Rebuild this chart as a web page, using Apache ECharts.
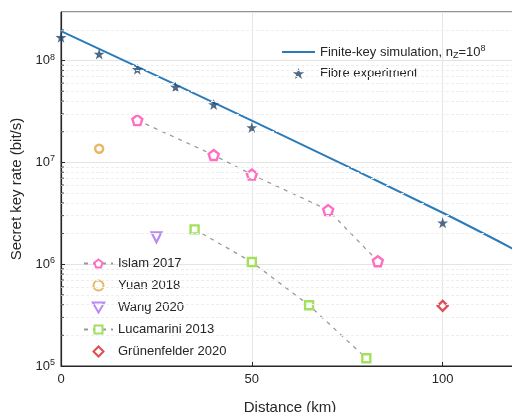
<!DOCTYPE html>
<html>
<head>
<meta charset="utf-8">
<script src="https://cdn.jsdelivr.net/npm/echarts@6/dist/echarts.min.js"></script>
<style>
  html, body { margin: 0; padding: 0; background: #fff; }
  #chart { width: 512px; height: 412px; }
</style>
</head>
<body>
<div id="chart"></div>
<script>
// Finite-key simulation curve (distance in km, rate in bit/s)
const simDistance = [0, 50, 100, 120];
const simRate = [1.95e8, 2.57e7, 3.2e6, 1.32e6];

// Fibre experiment
const fibreDistance = [0, 10, 20, 30, 40, 50, 100];
const fibreRate = [1.69e8, 1.16e8, 8.2e7, 5.5e7, 3.7e7, 2.2e7, 2.55e6];

// Earlier experiments
const islamDistance = [20, 40, 50, 70, 83];
const islamRate = [2.6e7, 1.18e7, 7.6e6, 3.4e6, 1.07e6];

const yuanDistance = [10];
const yuanRate = [1.36e7];

const wangDistance = [25];
const wangRate = [1.84e6];

const lucamariniDistance = [35, 50, 65, 80];
const lucamariniRate = [2.2e6, 1.05e6, 3.95e5, 1.19e5];

const grunenfelderDistance = [100];
const grunenfelderRate = [3.9e5];

// Axis ticks
const xTickLabels = [0, 50, 100];
const yDecades = [1e5, 1e6, 1e7, 1e8];
const minorSteps = [2, 3, 4, 5, 6, 7, 8, 9];
const yMin = 1e5, yMax = 3e8;

const pairs = (xs, ys) => xs.map((x, i) => [x, ys[i]]);

const minorValues = [];
yDecades.forEach(d => minorSteps.forEach(m => {
  const v = d * m;
  if (v < yMax) minorValues.push(v);
}));

// Marker outlines as paths so legend icons keep their aspect ratio
const STAR = 'path://M50,0 L61.2,34.5 L97.6,34.5 L68.2,55.9 L79.4,90.5 L50,69.1 L20.6,90.5 L31.8,55.9 L2.4,34.5 L38.8,34.5 Z';
const PENTAGON = 'path://M50,2 L97.6,36.6 L79.4,92.5 L20.6,92.5 L2.4,36.6 Z';
const CIRCLE = 'path://M50,0 A50,50 0 1,1 49.99,0 Z';
const TRI_DOWN = 'path://M0,0 L100,0 L50,86.6 Z';
const SQUARE = 'path://M0,0 L100,0 L100,100 L0,100 Z';
const DIAMOND = 'path://M50,0 L100,50 L50,100 L0,50 Z';
const BAR = 'path://M0,0 L33,0 L33,2 L0,2 Z';

const FONT = 'Liberation Sans';
const TEXT = '#262626';

const simName = 'Finite-key simulation';

const chart = echarts.init(document.getElementById('chart'), null, { renderer: 'canvas' });

chart.setOption({
  animation: false,
  backgroundColor: '#fff',
  textStyle: { fontFamily: FONT, color: TEXT },
  grid: {
    left: 61, top: 12, right: -7, bottom: 46,
    containLabel: false,
    outerBoundsMode: 'none',
    show: true, borderColor: '#262626', borderWidth: 1, backgroundColor: 'transparent'
  },
  xAxis: {
    type: 'value',
    min: 0, max: 120, interval: 50,
    name: 'Distance (km)',
    nameLocation: 'middle',
    nameGap: 34,
    nameTextStyle: { fontFamily: FONT, fontSize: 15, color: TEXT },
    axisLine: { lineStyle: { color: '#262626', width: 1.2 } },
    axisTick: { inside: true, length: 4, lineStyle: { color: '#262626' } },
    axisLabel: {
      fontFamily: FONT, fontSize: 13, color: TEXT, margin: 7,
      formatter: v => xTickLabels.includes(v) ? String(v) : ''
    },
    splitLine: { show: true, lineStyle: { color: '#e6e6e6', width: 1 } }
  },
  yAxis: {
    type: 'log',
    logBase: 10,
    min: yMin, max: yMax,
    name: 'Secret key rate (bit/s)',
    nameLocation: 'middle',
    nameGap: 29,
    nameTextStyle: { fontFamily: FONT, fontSize: 15, color: TEXT },
    axisLine: { lineStyle: { color: '#262626', width: 1.2 } },
    axisTick: { inside: true, length: 4, lineStyle: { color: '#262626' } },
    axisLabel: {
      fontFamily: FONT, fontSize: 13, color: TEXT, margin: 6,
      showMaxLabel: false,
      formatter: v => {
        const e = Math.round(Math.log10(v));
        if (Math.abs(Math.pow(10, e) - v) / v > 1e-6) return '';
        return '{b|10}{s|' + e + '}';
      },
      rich: {
        b: { fontFamily: FONT, fontSize: 13, color: TEXT },
        s: { fontFamily: FONT, fontSize: 9, color: TEXT, verticalAlign: 'top', padding: [0, 0, 7, 0] }
      }
    },
    splitLine: { show: true, lineStyle: { color: '#e3e3e3', width: 1 } }
  },
  legend: [
    {
      data: [{ name: simName, icon: BAR }, 'Fibre experiment'],
      orient: 'vertical',
      left: 277, top: 39,
      itemWidth: 33, itemHeight: 11, itemGap: 7,
      symbolKeepAspect: true,
      formatter: name => name === simName
        ? '{t|Finite-key simulation, n}{sub|Z}{t|=10}{sup|8}'
        : name,
      textStyle: {
        fontFamily: FONT, fontSize: 13, color: TEXT,
        rich: {
          t: { fontFamily: FONT, fontSize: 13, color: TEXT },
          sub: { fontFamily: FONT, fontSize: 9, color: TEXT, verticalAlign: 'bottom', padding: [6, 0, 0, 0] },
          sup: { fontFamily: FONT, fontSize: 9, color: TEXT, verticalAlign: 'top', padding: [0, 0, 7, 0] }
        }
      }
    },
    {
      data: ['Islam 2017', 'Yuan 2018', 'Wang 2020', 'Lucamarini 2013', 'Grünenfelder 2020'],
      orient: 'vertical',
      left: 78, top: 252,
      itemWidth: 29, itemHeight: 10, itemGap: 9,
      symbolKeepAspect: true,
      textStyle: { fontFamily: FONT, fontSize: 13, color: TEXT }
    }
  ],
  series: [
    {
      // minor grid lines at 2..9 times each decade
      type: 'line',
      data: [],
      silent: true,
      z: 0,
      markLine: {
        silent: true,
        symbol: 'none',
        label: { show: false },
        lineStyle: { color: '#eeeeee', type: [3, 2], width: 1 },
        emphasis: { disabled: true },
        data: minorValues.map(v => ({ yAxis: v }))
      }
    },
    {
      // minor tick marks on the rate axis
      type: 'scatter',
      data: minorValues.map(v => [0, v]),
      symbol: 'rect',
      symbolSize: [3, 1],
      symbolOffset: [1.5, 0],
      itemStyle: { color: '#262626' },
      silent: true,
      clip: false,
      z: 5
    },
    {
      name: simName,
      type: 'line',
      data: pairs(simDistance, simRate),
      symbol: 'none',
      smooth: 0.3,
      clip: true,
      lineStyle: { color: '#2b7bba', width: 2 },
      itemStyle: { color: '#2b7bba' },
      z: 3
    },
    {
      name: 'Fibre experiment',
      type: 'scatter',
      data: pairs(fibreDistance, fibreRate),
      symbol: STAR,
      symbolSize: 11,
      itemStyle: { color: '#22456a' },
      clip: false,
      z: 4
    },
    {
      name: 'Islam 2017',
      type: 'line',
      data: pairs(islamDistance, islamRate),
      symbol: PENTAGON,
      symbolSize: 10,
      showAllSymbol: true,
      lineStyle: { color: '#9a9a9a', width: 1.3, type: [4, 5] },
      itemStyle: { color: '#fff', borderColor: '#ff6ec4', borderWidth: 2.4 },
      z: 4
    },
    {
      name: 'Yuan 2018',
      type: 'scatter',
      data: pairs(yuanDistance, yuanRate),
      symbol: CIRCLE,
      symbolSize: 8,
      itemStyle: { color: '#fff', borderColor: '#e3a53a', borderWidth: 2.4 },
      z: 4
    },
    {
      name: 'Wang 2020',
      type: 'scatter',
      data: pairs(wangDistance, wangRate),
      symbol: TRI_DOWN,
      symbolSize: 10,
      itemStyle: { color: '#fff', borderColor: '#a66df0', borderWidth: 2.2 },
      z: 4
    },
    {
      name: 'Lucamarini 2013',
      type: 'line',
      data: pairs(lucamariniDistance, lucamariniRate),
      symbol: SQUARE,
      symbolSize: 8,
      showAllSymbol: true,
      lineStyle: { color: '#9a9a9a', width: 1.3, type: [4, 5] },
      itemStyle: { color: '#fff', borderColor: '#a2e05e', borderWidth: 2.4 },
      z: 4
    },
    {
      name: 'Grünenfelder 2020',
      type: 'scatter',
      data: pairs(grunenfelderDistance, grunenfelderRate),
      symbol: DIAMOND,
      symbolSize: 10,
      itemStyle: { color: '#fff', borderColor: '#d4232a', borderWidth: 2.4 },
      z: 4
    }
  ]
});
</script>
</body>
</html>
